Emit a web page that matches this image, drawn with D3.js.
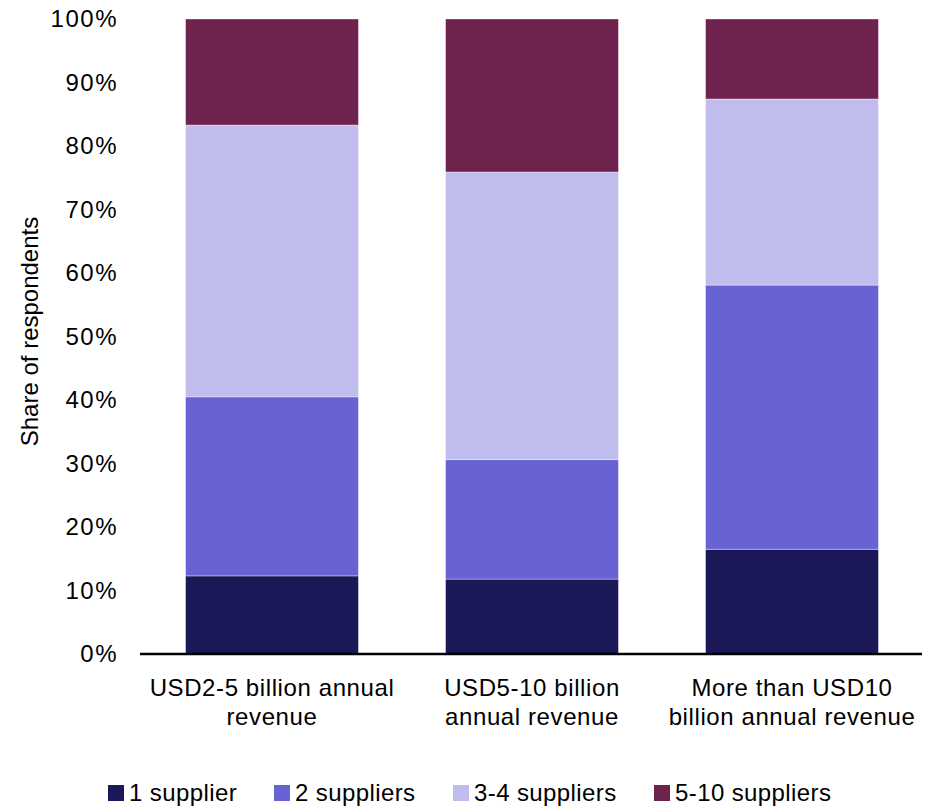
<!DOCTYPE html>
<html>
<head>
<meta charset="utf-8">
<script src="https://cdn.jsdelivr.net/npm/d3@7"></script>
<style>
  html, body { margin: 0; padding: 0; background: #fff; }
  svg { display: block; }
  text { font-family: "Liberation Sans", Arial, sans-serif; fill: #000; }
</style>
</head>
<body>
<svg id="chart" width="938" height="806"></svg>
<script>
const categories = [
  ["USD2-5 billion annual", "revenue"],
  ["USD5-10 billion", "annual revenue"],
  ["More than USD10", "billion annual revenue"]
];
const seriesNames = ["1 supplier", "2 suppliers", "3-4 suppliers", "5-10 suppliers"];
const oneSupplier   = [12.3, 11.8, 16.5];
const twoSuppliers  = [28.2, 18.8, 41.6];
const threeFour     = [42.8, 45.3, 29.3];
const fiveTen       = [16.7, 24.1, 12.6];
const yTicks = [0, 10, 20, 30, 40, 50, 60, 70, 80, 90, 100];
const colors = ["#1b1858", "#6763d2", "#c0bdee", "#6e224e"];

const svg = d3.select("#chart");
const margin = { left: 142, right: 16, top: 19, bottom: 152 };
const W = 938, H = 806;

const x = d3.scaleBand()
  .domain(d3.range(categories.length))
  .range([margin.left, W - margin.right])
  .paddingInner(0.335)
  .paddingOuter(0.1675);

const y = d3.scaleLinear().domain([0, 100]).range([H - margin.bottom, margin.top]);

const rows = categories.map((c, i) => ({
  i,
  s0: oneSupplier[i], s1: twoSuppliers[i], s2: threeFour[i], s3: fiveTen[i]
}));
const stack = d3.stack().keys(["s0", "s1", "s2", "s3"]);
const stacked = stack(rows);

svg.append("g").selectAll("g")
  .data(stacked)
  .join("g")
  .attr("fill", (d, k) => colors[k])
  .selectAll("rect")
  .data(d => d)
  .join("rect")
  .attr("x", d => x(d.data.i))
  .attr("width", x.bandwidth())
  .attr("y", d => y(d[1]))
  .attr("height", d => y(d[0]) - y(d[1]))
  .attr("stroke", "#ffffff")
  .attr("stroke-opacity", 0.5)
  .attr("stroke-width", 0.75);

// y axis labels
const yAxis = d3.axisLeft(y).tickValues(yTicks).tickFormat(d => d + "%").tickSize(0).tickPadding(0);
const yg = svg.append("g").attr("transform", `translate(118,0)`).call(yAxis);
yg.select(".domain").remove();
yg.selectAll("text")
  .style("font-family", "'Liberation Sans', Arial, sans-serif")
  .style("font-size", "24px")
  .style("letter-spacing", "1.5px")
  .attr("fill", "#000");

// x axis baseline
const xAxis = d3.axisBottom(x).tickSize(0).tickFormat("");
const xg = svg.append("g").attr("transform", `translate(0,${y(0)})`).call(xAxis);
xg.select(".domain").attr("stroke", "#000").attr("stroke-width", 2.5)
  .attr("d", `M140,0H${W - margin.right}`);

// category labels
const catG = svg.append("g");
categories.forEach((lines, i) => {
  const cx = x(i) + x.bandwidth() / 2;
  const t = catG.append("text")
    .attr("x", cx)
    .attr("y", 696)
    .attr("text-anchor", "middle")
    .style("font-size", "24px")
    .style("letter-spacing", "0.6px");
  lines.forEach((ln, j) => {
    t.append("tspan").attr("x", cx).attr("dy", j === 0 ? 0 : 29).text(ln);
  });
});

// y axis title
svg.append("text")
  .attr("transform", `translate(38,${(y(0) + y(100)) / 2 - 5}) rotate(-90)`)
  .attr("text-anchor", "middle")
  .style("font-size", "24px")
  .text("Share of respondents");

// legend
const legendX = [108, 274, 453, 654];
const lg = svg.append("g");
seriesNames.forEach((name, k) => {
  const g = lg.append("g").attr("transform", `translate(${legendX[k]},785)`);
  g.append("rect").attr("width", 16).attr("height", 16).attr("fill", colors[k]);
  g.append("text").attr("x", 21).attr("y", 16).style("font-size", "24px")
    .style("letter-spacing", "0.4px").text(name);
});
</script>
</body>
</html>
